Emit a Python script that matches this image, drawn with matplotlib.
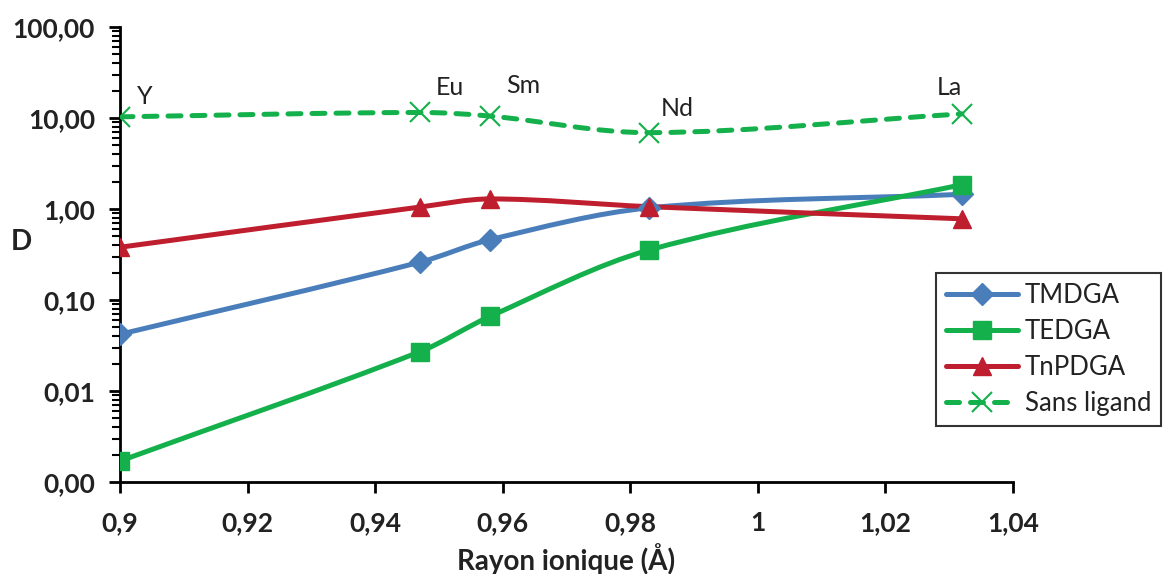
import numpy as np
import matplotlib
matplotlib.use("Agg")
import matplotlib.pyplot as plt
from matplotlib.path import Path
from matplotlib.patches import PathPatch
from matplotlib.lines import Line2D
from matplotlib.ticker import FixedLocator, LogLocator, NullFormatter

plt.rcParams['font.family'] = ['Lato', 'DejaVu Sans']

# ---- data ----
elements = ["Y", "Eu", "Sm", "Nd", "La"]
radius = [0.900, 0.947, 0.958, 0.983, 1.032]
tmdga = [0.042, 0.26, 0.46, 1.03, 1.45]
tedga = [0.0017, 0.027, 0.066, 0.355, 1.85]
tnpdga = [0.38, 1.05, 1.29, 1.06, 0.78]
sans_ligand = [10.3, 11.5, 10.5, 6.9, 11.1]

series_names = ["TMDGA", "TEDGA", "TnPDGA", "Sans ligand"]
xticks = [0.9, 0.92, 0.94, 0.96, 0.98, 1.0, 1.02, 1.04]
xtick_labels = ["0,9", "0,92", "0,94", "0,96", "0,98", "1", "1,02", "1,04"]
yticks = [0.001, 0.01, 0.1, 1, 10, 100]
ytick_labels = ["0,00", "0,01", "0,10", "1,00", "10,00", "100,00"]

BLUE = "#4A7EBB"
GREEN = "#14B04B"
RED = "#BE1E2D"
TXT = "#222222"

fig = plt.figure(figsize=(11.68, 5.74), dpi=100)
ax = fig.add_axes([120/1168, 1-482/574, (1013-120)/1168, (482-27)/574])
ax.set_yscale('log')
ax.set_xlim(0.9, 1.04)
ax.set_ylim(0.001, 100)


def smooth_path(xs, ys):
    # smoothed line: cubic Hermite/Bezier through the points in (x, log10 y)
    X = np.asarray(xs, float)
    Y = np.log10(np.asarray(ys, float))
    n = len(X)
    m = np.empty(n)
    for i in range(n):
        a = max(i - 1, 0)
        b = min(i + 1, n - 1)
        m[i] = (Y[b] - Y[a]) / (X[b] - X[a])
    verts = [(X[0], Y[0])]
    codes = [Path.MOVETO]
    for i in range(n - 1):
        h = X[i+1] - X[i]
        c1 = (X[i] + h / 3, Y[i] + m[i] * h / 3)
        c2 = (X[i+1] - h / 3, Y[i+1] - m[i+1] * h / 3)
        verts += [c1, c2, (X[i+1], Y[i+1])]
        codes += [Path.CURVE4] * 3
    verts = [(vx, 10 ** vy) for vx, vy in verts]
    return Path(verts, codes)


styles = [
    (tmdga, BLUE, 'D', 11, '-'),
    (tedga, GREEN, 's', 13, '-'),
    (tnpdga, RED, '^', 13, '-'),
    (sans_ligand, GREEN, 'x', 15, '--'),
]

handles = []
for (vals, col, mk, ms, ls), name in zip(styles, series_names):
    patch = PathPatch(smooth_path(radius, vals), facecolor='none', edgecolor=col,
                      lw=3.6, capstyle='round', joinstyle='round', zorder=2)
    if ls == '--':
        patch.set_linestyle((0, (2.6, 2.2)))
    ax.add_patch(patch)
    if mk == 'x':
        ax.plot(radius, vals, linestyle='none', marker='x', ms=ms, mew=1.5, color=col, zorder=3)
        h = Line2D([], [], color=col, lw=3.6, dashes=(2.6, 2.2), dash_capstyle='round',
                   marker='x', ms=ms, mew=1.5)
    else:
        ax.plot(radius, vals, linestyle='none', marker=mk, ms=ms, color=col, mec=col, zorder=3)
        h = Line2D([], [], color=col, lw=3.6, solid_capstyle='round', marker=mk, ms=ms, mec=col)
    handles.append(h)

# element labels
offsets = {"Y": (25, 20), "Eu": (30, 25), "Sm": (33, 31), "Nd": (28, 24), "La": (-13, 26)}
for el, xv, yv in zip(elements, radius, sans_ligand):
    ax.annotate(el, (xv, yv), xytext=offsets[el], textcoords='offset pixels',
                ha='center', va='center', fontsize=18, color=TXT)

# axes styling
for s in ['top', 'right']:
    ax.spines[s].set_visible(False)
for s in ['left', 'bottom']:
    ax.spines[s].set_linewidth(2)
    ax.spines[s].set_color('black')

ax.xaxis.set_major_locator(FixedLocator(xticks))
ax.set_xticklabels(xtick_labels, fontsize=19, fontweight='bold', color=TXT)
ax.yaxis.set_major_locator(FixedLocator(yticks))
ax.set_yticklabels(ytick_labels, fontsize=19, fontweight='bold', color=TXT)
ax.yaxis.set_minor_locator(LogLocator(base=10, subs=np.arange(2, 10), numticks=20))
ax.yaxis.set_minor_formatter(NullFormatter())
ax.tick_params(axis='x', direction='out', length=8, width=2, pad=13)
ax.tick_params(axis='y', which='major', direction='out', length=8, width=2, pad=10)
ax.tick_params(axis='y', which='minor', direction='out', length=6, width=1.5)

ax.set_xlabel("Rayon ionique (Å)", fontsize=20, fontweight='bold', color=TXT, labelpad=6)
ax.set_ylabel("D", fontsize=20, fontweight='bold', color=TXT, rotation=0, labelpad=0)
ax.yaxis.set_label_coords(-0.11, 0.5)

leg = ax.legend(handles, series_names, loc='upper left',
                bbox_to_anchor=(936/1168, 1-273/574), bbox_transform=fig.transFigure,
                fontsize=18.5, frameon=True, fancybox=False, handlelength=2.8,
                handletextpad=0.25, borderpad=0.4, labelspacing=0.42, borderaxespad=0)
leg.get_frame().set_edgecolor('black')
leg.get_frame().set_linewidth(1.5)
for t in leg.get_texts():
    t.set_color(TXT)

fig.savefig("out.png", dpi=100)
